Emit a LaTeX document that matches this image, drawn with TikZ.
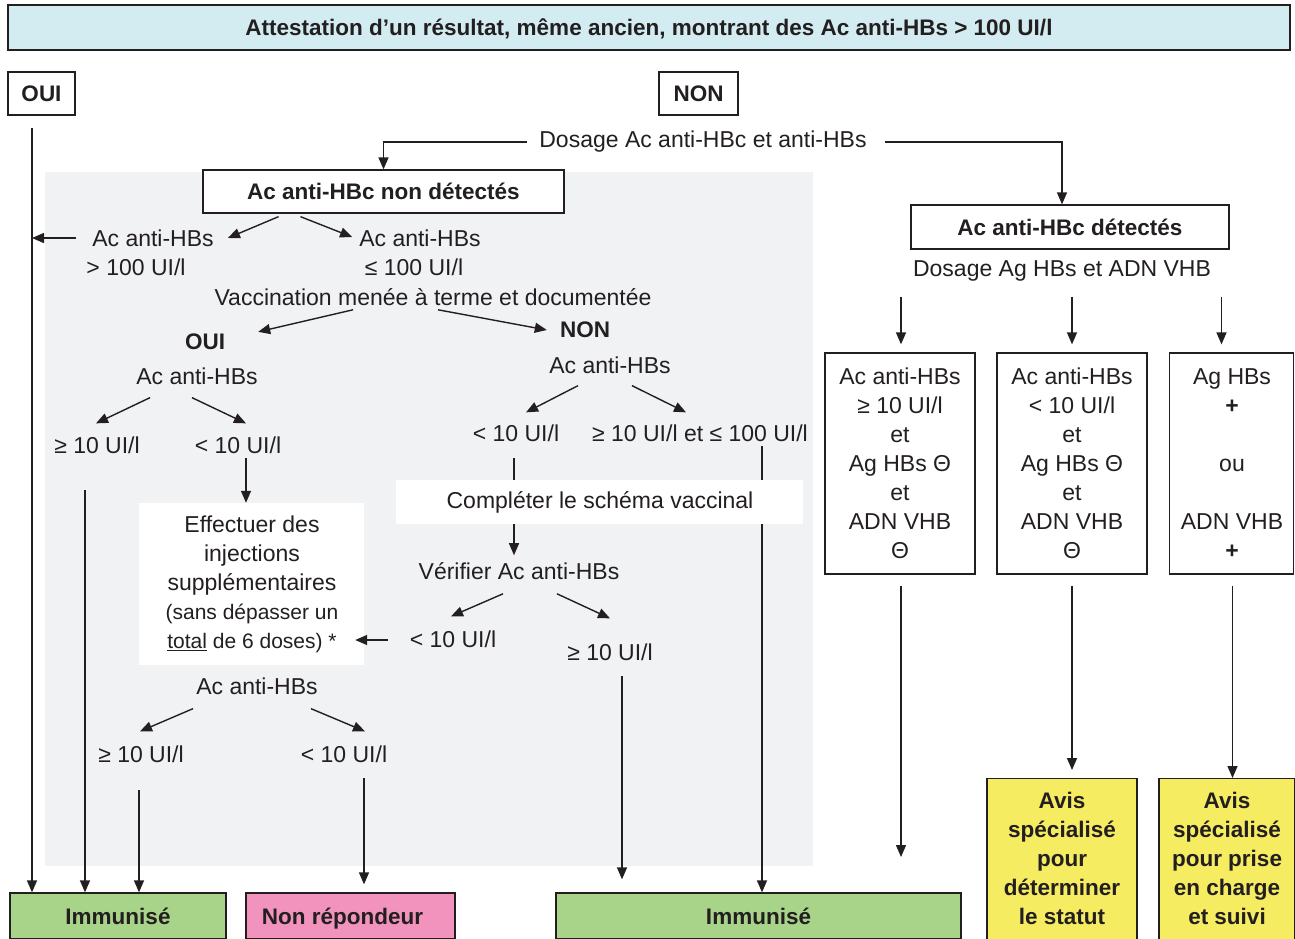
\documentclass[tikz,border=0pt]{standalone}
\usepackage{fontspec}
\setmainfont{Liberation Sans}
\usetikzlibrary{arrows.meta,calc}
\definecolor{panel}{HTML}{F1F2F4}
\definecolor{titlebg}{HTML}{D2ECF2}
\definecolor{immgreen}{HTML}{A8D48A}
\definecolor{nonpink}{HTML}{F293BE}
\definecolor{avisyellow}{HTML}{F5EC62}
\definecolor{ink}{HTML}{231F20}
\begin{document}
\begin{tikzpicture}[x=1pt,y=-1pt,
  txt/.style={font=\fontsize{23}{29}\selectfont, text=ink, inner sep=0pt, align=center},
  btxt/.style={font=\fontsize{22.5}{29}\selectfont\bfseries, text=ink, inner sep=0pt, align=center},
  bfont/.style={font=\fontsize{22.5}{26}\selectfont\bfseries, text height=16pt, text depth=0pt},
  box/.style={draw=ink, line width=1.3pt, fill=white, inner sep=0pt, text=ink, align=center},
  wbox/.style={fill=white, inner sep=0pt, text=ink, align=center},
  arr/.style={-{Triangle[length=12pt,width=10pt]}, line width=1.4pt, draw=ink},
  ln/.style={line width=1.4pt, draw=ink}]
\useasboundingbox (0,0) rectangle (1295,938);
\fill[white] (0,0) rectangle (1295,938);
% grey panel
\fill[panel] (45,172) rectangle (813,866);

% title
\node[box, fill=titlebg, minimum width=1282pt, minimum height=45pt, bfont] (title) at (649,27.5)
  {Attestation d’un résultat, même ancien, montrant des Ac anti-HBs > 100 UI/l};
\draw[ink, line width=1.6pt] (title.south west) -- (title.south east);

\node[box, minimum width=67pt, minimum height=43pt, bfont] (oui) at (41.5,93.5) {OUI};
\node[box, minimum width=79pt, minimum height=43pt, bfont] (non) at (698.5,93.5) {NON};
\node[txt] (dosage) at (703,142) {Dosage Ac anti-HBc et anti-HBs};
\node[box, minimum width=361pt, minimum height=43pt, bfont] (nondet) at (383.5,191.5) {Ac anti-HBc non détectés};
\node[box, minimum width=318pt, minimum height=44pt, bfont] (det) at (1070,227) {Ac anti-HBc détectés};
\node[txt] (dosage2) at (1062,271) {Dosage Ag HBs et ADN VHB};

% bottom result boxes
\node[box, fill=immgreen, minimum width=216pt, minimum height=46pt, bfont] (imm1) at (118,916) {Immunisé};
\node[box, fill=nonpink, minimum width=209pt, minimum height=46pt, bfont] (nonrep) at (350.5,916) {Non répondeur\hspace{16pt}};
\node[box, fill=immgreen, minimum width=405pt, minimum height=46pt, bfont] (imm2) at (758.5,916) {Immunisé};

% left branch texts
\node[txt] (hbsgt1) at (153,238) {Ac anti-HBs};
\node[txt] (hbsgt2) at (136,267) {> 100 UI/l};
\node[txt] (hbsle1) at (420,238) {Ac anti-HBs};
\node[txt] (hbsle2) at (414,267) {≤ 100 UI/l};
\node[txt] (vac) at (433,297) {Vaccination menée à terme et documentée};
\node[btxt] (oui2) at (205,342) {OUI};
\node[btxt] (non2) at (585,330) {NON};
\node[txt] (ach1) at (197,376) {Ac anti-HBs};
\node[txt] (ge1) at (97,445) {≥ 10 UI/l};
\node[txt] (lt1) at (238,445) {< 10 UI/l};
\node[wbox, minimum width=225pt, minimum height=162pt] (eff) at (251.5,584) {};
\node[txt] (efftxt) at (252,584) {Effectuer des\\injections\\supplémentaires\\{\fontsize{21}{29}\selectfont(sans dépasser un}\\{\fontsize{21}{29}\selectfont\underline{total} de 6 doses) *}};
\node[txt] (ach2) at (257,686) {Ac anti-HBs};
\node[txt] (ge2) at (141,754) {≥ 10 UI/l};
\node[txt] (lt2) at (344,754) {< 10 UI/l};

% NON branch texts
\node[txt] (ach3) at (610,365) {Ac anti-HBs};
\node[txt] (lt4) at (516,433) {< 10 UI/l};
\node[txt] (ge4) at (700,433) {≥ 10 UI/l et ≤ 100 UI/l};
\node[txt] (ver) at (519,571) {Vérifier Ac anti-HBs};
\node[txt] (lt3) at (453,639) {< 10 UI/l};
\node[txt] (ge3) at (610,652) {≥ 10 UI/l};

% right boxes
\node[box, minimum width=150pt, minimum height=221pt] (b1) at (900,463.5) {};
\node[txt] at (b1) {Ac anti-HBs\\≥ 10 UI/l\\et\\Ag HBs Θ\\et\\ADN VHB\\Θ};
\node[box, minimum width=150pt, minimum height=221pt] (b2) at (1072,463.5) {};
\node[txt] at (b2) {Ac anti-HBs\\< 10 UI/l\\et\\Ag HBs Θ\\et\\ADN VHB\\Θ};
\node[box, minimum width=124pt, minimum height=221pt] (b3) at (1231.5,463.5) {};
\node[txt] at (1232,463.5) {Ag HBs\\\textbf{+}\\[29pt]ou\\[29pt]ADN VHB\\\textbf{+}};

\node[box, fill=avisyellow, minimum width=150pt, minimum height=162pt, anchor=north] (av1) at (1062,778) {};
\node[btxt, anchor=north] at (1062,792) {Avis\\spécialisé\\pour\\déterminer\\le statut};
\node[box, fill=avisyellow, minimum width=136pt, minimum height=162pt, anchor=north] (av2) at (1227,778) {};
\node[btxt, anchor=north] at (1227,792) {Avis\\spécialisé\\pour prise\\en charge\\et suivi};

% coordinates for free ends
\coordinate (ouitop) at (32,128);
\coordinate (ge1bot) at (85,490);
\coordinate (ge2bot) at (139,790);
\coordinate (lt2bot) at (364,778);
\coordinate (ge3bot) at (622,676);
\coordinate (ge4bot) at (762,446);
\coordinate (lt4bot) at (514,458);
\coordinate (lt1bot) at (246,458);
\coordinate (b1end) at (901,857);

% connectors
\draw[arr] ([xshift=-12pt]dosage.west) -| (nondet.north);
\draw[arr] ([xshift=18pt]dosage.east) -| ([xshift=-8pt]det.north);
\draw[arr] (ouitop) -- (ouitop |- imm1.north);
\draw[arr] ([xshift=-16pt]hbsgt1.west) -- (hbsgt1.west -| ouitop);
\draw[arr] ($(nondet.south)+(-105,3)$) -- ($(hbsgt1.east)+(14,0)$);
\draw[arr] ($(nondet.south)+(-83,3)$) -- ($(hbsle1.west)+(-7,-1)$);
\draw[arr] ($(vac.south)+(-80,4)$) -- ($(oui2.north east)+(33,-2)$);
\draw[arr] ($(vac.south)+(5,4)$) -- ($(non2.west)+(-13,0)$);
\draw[arr] ($(ach1.south)+(-47,13)$) -- ($(ge1.north)+(-1,-13)$);
\draw[arr] ($(ach1.south)+(-5,13)$) -- ($(lt1.north)+(8,-13)$);
\draw[arr] (lt1bot) -- (lt1bot |- eff.north);
\draw[arr] (ge1bot) -- (ge1bot |- imm1.north);
\draw[arr] ($(lt3.west)+(-22,1)$) -- ($(eff.east |- lt3.west)+(-9,1)$);
\draw[arr] ($(ach2.south)+(-64,14)$) -- ($(ge2.north)+(-1,-14)$);
\draw[arr] ($(ach2.south)+(54,14)$) -- ($(lt2.north)+(21,-14)$);
\draw[arr] (ge2bot) -- (ge2bot |- imm1.north);
\draw[arr, shorten >=8pt] (lt2bot) -- (lt2bot |- nonrep.north);

\draw[arr] ($(ach3.south)+(-32,12)$) -- ($(lt4.north)+(10,-12)$);
\draw[arr] ($(ach3.south)+(22,12)$) -- ($(ge4.north)+(-14,-12)$);
\draw[arr] (ge4bot) -- (ge4bot |- imm2.north);
% white box over the line
\node[wbox, minimum width=407pt, minimum height=44pt] (comp) at (599.5,502) {};
\node[txt] at (600,502) {Compléter le schéma vaccinal};
\draw[ln] (lt4bot) -- (lt4bot |- comp.north);
\draw[arr] (lt4bot |- comp.south) -- ($(lt4bot |- ver.north)+(0,-7)$);
\draw[arr] ($(ver.south)+(-16,14)$) -- ($(lt3.north)+(-2,-14)$);
\draw[arr] ($(ver.south)+(38,14)$) -- ($(ge3.north)+(0,-25)$);
\draw[arr, shorten >=13pt] (ge3bot) -- (ge3bot |- imm2.north);

\draw[arr, shorten >=8pt] ($(dosage2.south -| b1.north)+(1,15)$) -- ($(b1.north)+(1,0)$);
\draw[arr, shorten >=8pt] ($(dosage2.south -| b2.north)+(0,15)$) -- (b2.north);
\draw[arr, shorten >=8pt] ($(dosage2.south -| b3.north)+(-10,15)$) -- ($(b3.north)+(-10,0)$);
\draw[arr] ($(b1.south)+(1,11)$) -- (b1end);
\draw[arr, shorten >=8pt] ($(b2.south)+(0,11)$) -- (b2.south |- av1.north);
\draw[arr] ($(b3.south)+(1,11)$) -- ($(b3.south |- av2.north)+(1,0)$);
\end{tikzpicture}
\end{document}
